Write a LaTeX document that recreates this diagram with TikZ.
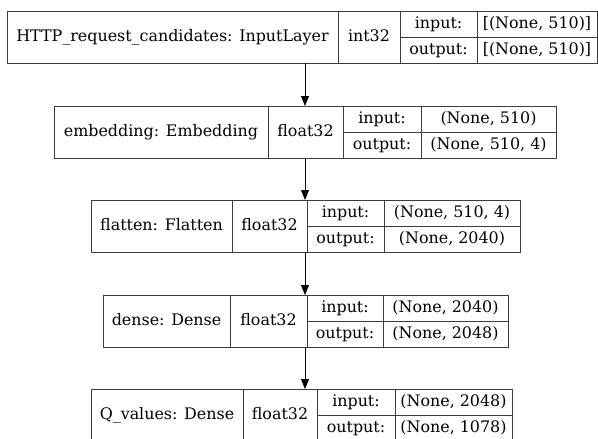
\documentclass[tikz,border=0pt]{standalone}
\usepackage{fontspec}
\setmainfont{DejaVu Serif}
\usetikzlibrary{arrows.meta}
\definecolor{lncol}{RGB}{60,60,60}
\begin{document}
\begin{tikzpicture}[
  layerbox/.style={draw=lncol, line width=1pt, inner sep=0pt, outer sep=0pt, minimum height=52pt},
  divider/.style={draw=lncol, line width=1pt},
  txt/.style={inner sep=0pt, font=\fontsize{15.9}{18}\selectfont, text=black, text height=11.5pt, text depth=3pt},
  arr/.style={draw=black, line width=0.8pt, -{Triangle[length=10pt,width=8pt]}}
]
\useasboundingbox (0,0) rectangle (598pt,-439pt);
\foreach \n/\xa/\xb/\xc/\xd/\xe/\yt/\lab/\dt/\vin/\vout in {
  L1/7/338/400/477/597/11/{HTTP\_request\_candidates: InputLayer}/int32/{[(None, 510)]}/{[(None, 510)]},
  L2/54/268/343/421/556/106/{embedding: Embedding}/float32/{(None, 510)}/{(None, 510, 4)},
  L3/91/232/307/384/520/200/{flatten: Flatten}/float32/{(None, 510, 4)}/{(None, 2040)},
  L4/103/230/307/383/508/295/{dense: Dense}/float32/{(None, 2040)}/{(None, 2048)},
  L5/91/243/317/395/512/389/{Q\_values: Dense}/float32/{(None, 2048)}/{(None, 1078)}%
}{
  \node[layerbox, minimum width={(\xe-\xa)*1pt}] (\n) at ({(\xa+\xe)/2*1pt},{-(\yt+26)*1pt}) {};
  \draw[divider] (\xb pt,-\yt pt) -- (\xb pt,{-(\yt+52)*1pt});
  \draw[divider] (\xc pt,-\yt pt) -- (\xc pt,{-(\yt+52)*1pt});
  \draw[divider] (\xd pt,-\yt pt) -- (\xd pt,{-(\yt+52)*1pt});
  \draw[divider] (\xc pt,{-(\yt+26)*1pt}) -- (\xe pt,{-(\yt+26)*1pt});
  \node[txt] (\n-name) at ({(\xa+\xb)/2*1pt},{-(\yt+26)*1pt}) {\lab};
  \node[txt] (\n-type) at ({(\xb+\xc)/2*1pt},{-(\yt+26)*1pt}) {\dt};
  \node[txt] (\n-inl) at ({(\xc+\xd)/2*1pt},{-(\yt+13)*1pt}) {input:};
  \node[txt] (\n-outl) at ({(\xc+\xd)/2*1pt},{-(\yt+39)*1pt}) {output:};
  \node[txt] (\n-inv) at ({(\xd+\xe)/2*1pt},{-(\yt+13)*1pt}) {\vin};
  \node[txt] (\n-outv) at ({(\xd+\xe)/2*1pt},{-(\yt+39)*1pt}) {\vout};
}
\coordinate (ax) at (305pt,0pt);
\draw[arr] (L1.south -| ax) -- (L2.north -| ax);
\draw[arr] (L2.south -| ax) -- (L3.north -| ax);
\draw[arr] (L3.south -| ax) -- (L4.north -| ax);
\draw[arr] (L4.south -| ax) -- (L5.north -| ax);
\end{tikzpicture}
\end{document}
